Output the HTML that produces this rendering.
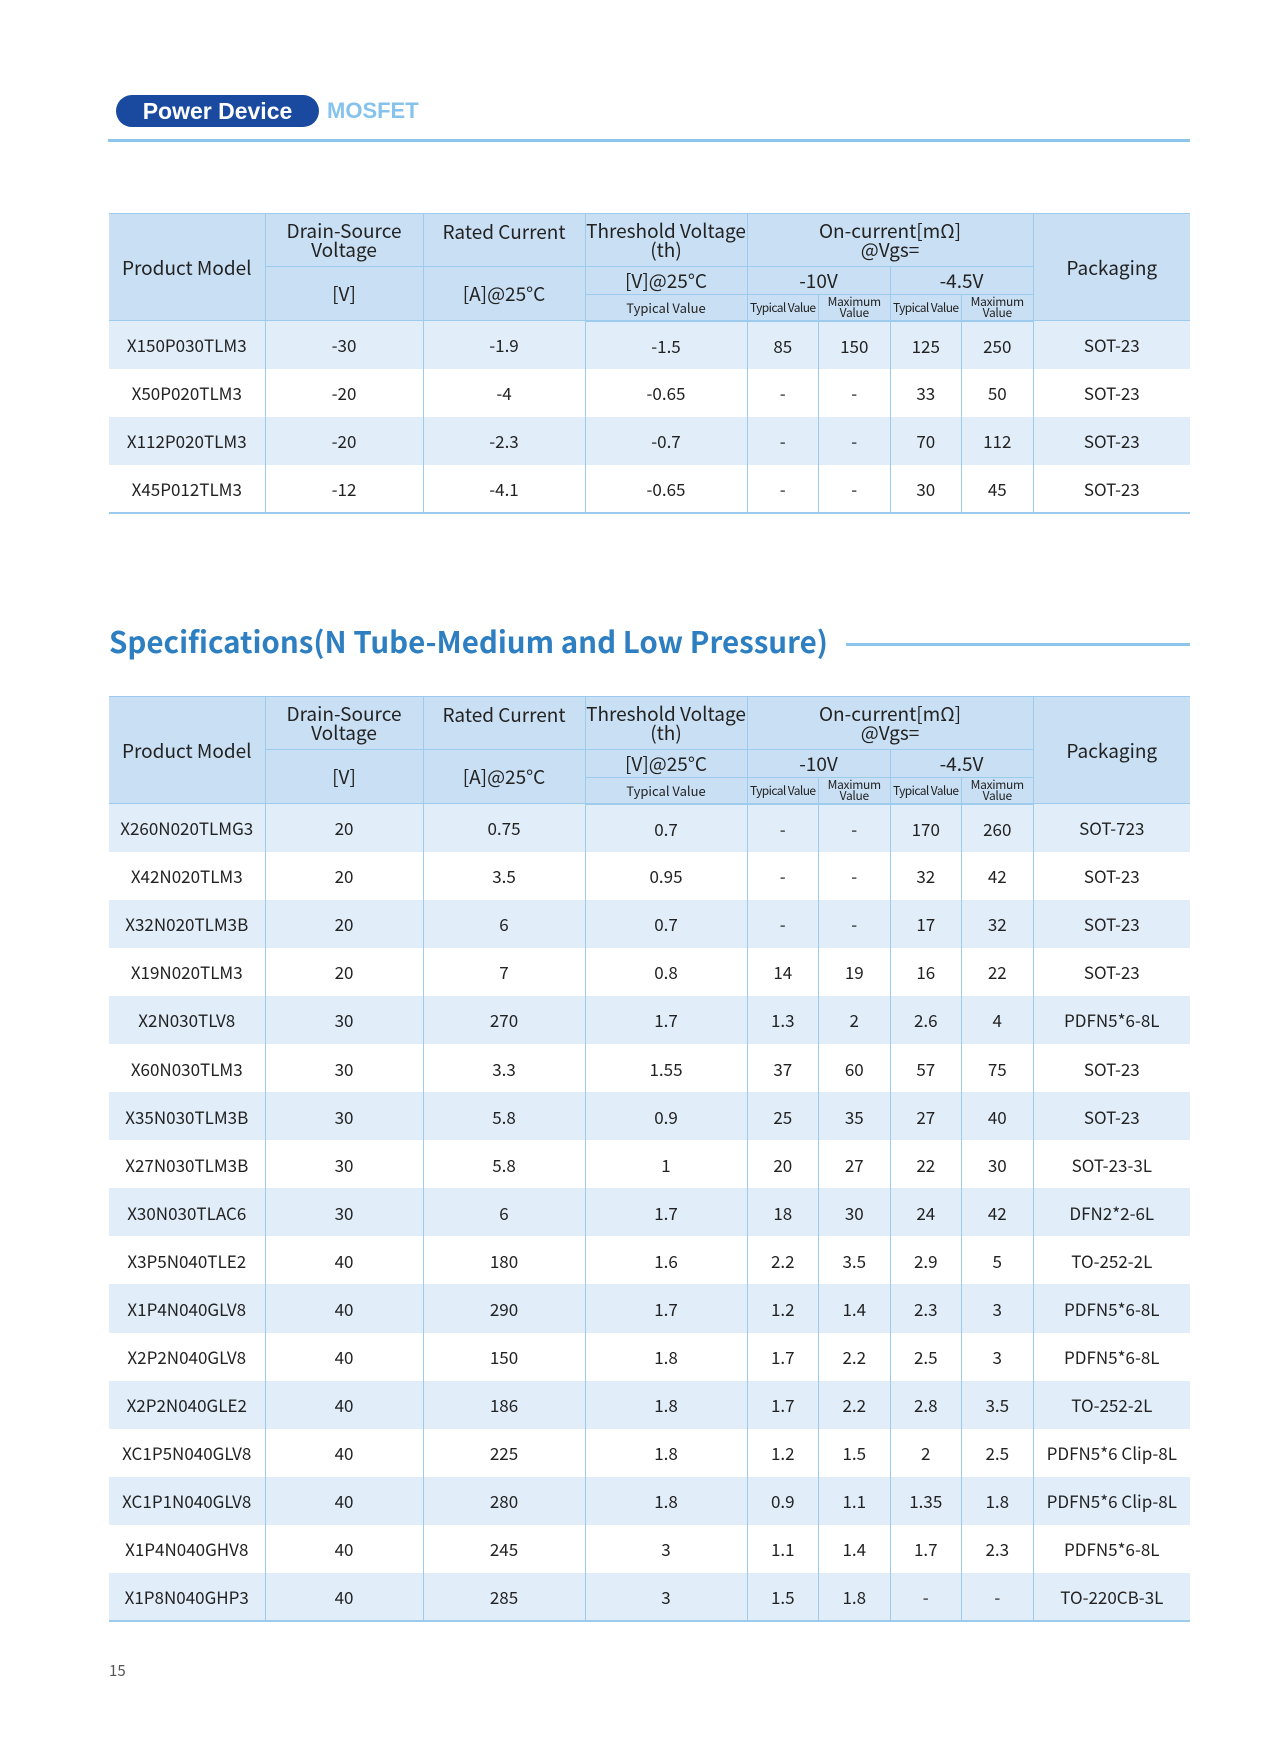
<!DOCTYPE html>
<html><head><meta charset="utf-8">
<style>
*{margin:0;padding:0;box-sizing:border-box}
body{width:1280px;height:1749px;background:#fff;position:relative;font-family:"Noto Sans CJK SC","Liberation Sans",sans-serif;color:#222;overflow:hidden}
.pill{position:absolute;left:116px;top:95px;width:203px;height:32px;border-radius:16px;background:#1a4aa0;color:#fff;font-weight:bold;font-size:23px;line-height:32px;text-align:center;font-family:"Liberation Sans",sans-serif}
.mos{position:absolute;left:327px;top:97px;font-size:22px;line-height:28px;color:#86c3ec;font-weight:bold;font-family:"Liberation Sans",sans-serif}
.hl{position:absolute;left:108px;top:139px;width:1082px;height:3px;background:#8cc4ea}
.title{position:absolute;left:109px;top:619px;font-size:29.5px;font-weight:bold;color:#2d7fc1;line-height:44px;font-family:"Noto Sans CJK SC","Liberation Sans",sans-serif;white-space:nowrap}
.tl{position:absolute;left:846px;top:643px;width:344px;height:3px;background:#8cc4ea}
table{position:absolute;left:109px;border-collapse:collapse;table-layout:fixed;width:1081px}
td{text-align:center;vertical-align:middle;font-size:17px;border-left:1px solid #9ccbee;border-right:1px solid #9ccbee;line-height:1}
tr td:first-child{border-left:none}
tr td:last-child{border-right:none}
.h td{background:#c9dff3;border:1px solid #9ccbee;font-size:19px;line-height:19px}
.h td.pm{border-left:none}.h td.pk{border-right:none}
.h td.sm{font-size:13px}
.h td.xs{font-size:12px;line-height:11px;letter-spacing:-0.3px}
.h td.ty{font-size:12px;letter-spacing:-0.6px}
.ra{height:53px}.rb{height:28px}.rc{height:26px}
.d td{height:48.1px}
.d:nth-child(odd) td{background:#e1edf9}
.d td{border-top:none;border-bottom:none}
table tr:last-child td{border-bottom:2px solid #9ccbee}
.pn{position:absolute;left:109px;top:1660px;font-size:15px;color:#555}
</style></head><body>
<div class="pill">Power Device</div>
<div class="mos">MOSFET</div>
<div class="hl"></div>

<table style="top:213px">
<colgroup><col style="width:156px"><col style="width:158px"><col style="width:162px"><col style="width:162px"><col style="width:71.5px"><col style="width:71.5px"><col style="width:71.5px"><col style="width:71.5px"><col style="width:157px"></colgroup>
<tbody>
<tr class="h ra"><td class="pm" rowspan="3">Product Model</td><td>Drain-Source<br>Voltage</td><td style="vertical-align:top;padding-top:8px">Rated Current</td><td>Threshold Voltage<br>(th)</td><td colspan="4">On-current[mΩ]<br>@Vgs=</td><td class="pk" rowspan="3">Packaging</td></tr>
<tr class="h rb"><td rowspan="2">[V]</td><td rowspan="2">[A]@25°C</td><td>[V]@25°C</td><td colspan="2">-10V</td><td colspan="2">-4.5V</td></tr>
<tr class="h rc"><td class="sm">Typical Value</td><td class="ty">Typical Value</td><td class="xs">Maximum<br>Value</td><td class="ty">Typical Value</td><td class="xs">Maximum<br>Value</td></tr>
</tbody>
<tbody>
<tr class="d"><td>X150P030TLM3</td><td>-30</td><td>-1.9</td><td>-1.5</td><td>85</td><td>150</td><td>125</td><td>250</td><td>SOT-23</td></tr>
<tr class="d"><td>X50P020TLM3</td><td>-20</td><td>-4</td><td>-0.65</td><td>-</td><td>-</td><td>33</td><td>50</td><td>SOT-23</td></tr>
<tr class="d"><td>X112P020TLM3</td><td>-20</td><td>-2.3</td><td>-0.7</td><td>-</td><td>-</td><td>70</td><td>112</td><td>SOT-23</td></tr>
<tr class="d"><td>X45P012TLM3</td><td>-12</td><td>-4.1</td><td>-0.65</td><td>-</td><td>-</td><td>30</td><td>45</td><td>SOT-23</td></tr>
</tbody>
</table>

<div class="title">Specifications(N Tube-Medium and Low Pressure)</div>
<div class="tl"></div>

<table style="top:696px">
<colgroup><col style="width:156px"><col style="width:158px"><col style="width:162px"><col style="width:162px"><col style="width:71.5px"><col style="width:71.5px"><col style="width:71.5px"><col style="width:71.5px"><col style="width:157px"></colgroup>
<tbody>
<tr class="h ra"><td class="pm" rowspan="3">Product Model</td><td>Drain-Source<br>Voltage</td><td style="vertical-align:top;padding-top:8px">Rated Current</td><td>Threshold Voltage<br>(th)</td><td colspan="4">On-current[mΩ]<br>@Vgs=</td><td class="pk" rowspan="3">Packaging</td></tr>
<tr class="h rb"><td rowspan="2">[V]</td><td rowspan="2">[A]@25°C</td><td>[V]@25°C</td><td colspan="2">-10V</td><td colspan="2">-4.5V</td></tr>
<tr class="h rc"><td class="sm">Typical Value</td><td class="ty">Typical Value</td><td class="xs">Maximum<br>Value</td><td class="ty">Typical Value</td><td class="xs">Maximum<br>Value</td></tr>
</tbody>
<tbody>
<tr class="d"><td>X260N020TLMG3</td><td>20</td><td>0.75</td><td>0.7</td><td>-</td><td>-</td><td>170</td><td>260</td><td>SOT-723</td></tr>
<tr class="d"><td>X42N020TLM3</td><td>20</td><td>3.5</td><td>0.95</td><td>-</td><td>-</td><td>32</td><td>42</td><td>SOT-23</td></tr>
<tr class="d"><td>X32N020TLM3B</td><td>20</td><td>6</td><td>0.7</td><td>-</td><td>-</td><td>17</td><td>32</td><td>SOT-23</td></tr>
<tr class="d"><td>X19N020TLM3</td><td>20</td><td>7</td><td>0.8</td><td>14</td><td>19</td><td>16</td><td>22</td><td>SOT-23</td></tr>
<tr class="d"><td>X2N030TLV8</td><td>30</td><td>270</td><td>1.7</td><td>1.3</td><td>2</td><td>2.6</td><td>4</td><td>PDFN5*6-8L</td></tr>
<tr class="d"><td>X60N030TLM3</td><td>30</td><td>3.3</td><td>1.55</td><td>37</td><td>60</td><td>57</td><td>75</td><td>SOT-23</td></tr>
<tr class="d"><td>X35N030TLM3B</td><td>30</td><td>5.8</td><td>0.9</td><td>25</td><td>35</td><td>27</td><td>40</td><td>SOT-23</td></tr>
<tr class="d"><td>X27N030TLM3B</td><td>30</td><td>5.8</td><td>1</td><td>20</td><td>27</td><td>22</td><td>30</td><td>SOT-23-3L</td></tr>
<tr class="d"><td>X30N030TLAC6</td><td>30</td><td>6</td><td>1.7</td><td>18</td><td>30</td><td>24</td><td>42</td><td>DFN2*2-6L</td></tr>
<tr class="d"><td>X3P5N040TLE2</td><td>40</td><td>180</td><td>1.6</td><td>2.2</td><td>3.5</td><td>2.9</td><td>5</td><td>TO-252-2L</td></tr>
<tr class="d"><td>X1P4N040GLV8</td><td>40</td><td>290</td><td>1.7</td><td>1.2</td><td>1.4</td><td>2.3</td><td>3</td><td>PDFN5*6-8L</td></tr>
<tr class="d"><td>X2P2N040GLV8</td><td>40</td><td>150</td><td>1.8</td><td>1.7</td><td>2.2</td><td>2.5</td><td>3</td><td>PDFN5*6-8L</td></tr>
<tr class="d"><td>X2P2N040GLE2</td><td>40</td><td>186</td><td>1.8</td><td>1.7</td><td>2.2</td><td>2.8</td><td>3.5</td><td>TO-252-2L</td></tr>
<tr class="d"><td>XC1P5N040GLV8</td><td>40</td><td>225</td><td>1.8</td><td>1.2</td><td>1.5</td><td>2</td><td>2.5</td><td>PDFN5*6 Clip-8L</td></tr>
<tr class="d"><td>XC1P1N040GLV8</td><td>40</td><td>280</td><td>1.8</td><td>0.9</td><td>1.1</td><td>1.35</td><td>1.8</td><td>PDFN5*6 Clip-8L</td></tr>
<tr class="d"><td>X1P4N040GHV8</td><td>40</td><td>245</td><td>3</td><td>1.1</td><td>1.4</td><td>1.7</td><td>2.3</td><td>PDFN5*6-8L</td></tr>
<tr class="d"><td>X1P8N040GHP3</td><td>40</td><td>285</td><td>3</td><td>1.5</td><td>1.8</td><td>-</td><td>-</td><td>TO-220CB-3L</td></tr>
</tbody>
</table>

<div class="pn">15</div>
</body></html>
